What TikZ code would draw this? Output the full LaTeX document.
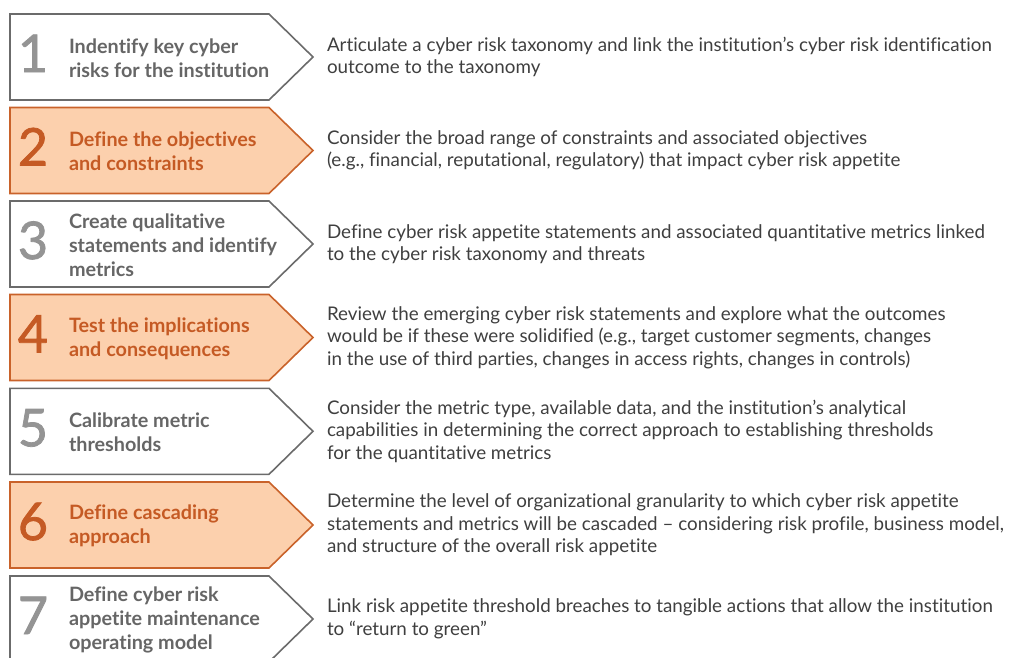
\documentclass[tikz,border=0pt]{standalone}
\usepackage{fontspec}
\setmainfont{Lato}[Ligatures={NoCommon,TeX}]
\newfontfamily\numfont[FakeBold=1.5]{Lato}
\definecolor{grayline}{HTML}{6B6B6B}
\definecolor{graynum}{HTML}{949494}
\definecolor{graylabel}{HTML}{666666}
\definecolor{desctext}{HTML}{3F3F3F}
\definecolor{orline}{HTML}{C9622A}
\definecolor{orfill}{HTML}{FCD0AD}
\definecolor{ortext}{HTML}{C55A24}
\tikzset{
  every node/.style={inner sep=0pt, outer sep=0pt},
  graybox/.style={draw=grayline, fill=white, line width=1.6pt},
  orbox/.style={draw=orline, fill=orfill, line width=1.6pt},
  numtext/.style={anchor=base, font=\numfont\fontsize{52}{52}\selectfont},
  labeltext/.style={anchor=west, align=left, font=\fontsize{19.8}{24}\selectfont\bfseries},
  desctext/.style={anchor=west, align=left, text=desctext, font=\fontsize{18.8}{22.5}\selectfont},
}
\newcommand{\stepitem}[7]{%
  % #1 index, #2 top edge, #3 box style, #4 label colour, #5 number colour, #6 label, #7 description
  \draw[#3] (10,#2) -- (269,#2) -- (313,#2+43) -- (269,#2+86) -- (10,#2+86) -- cycle;
  \node[numtext, text=#5] (num#1) at (33,#2+58) {#1};
  \node[labeltext, text=#4] (lab#1) at (69,#2+44) {#6};
  \node[desctext] (desc#1) at (327,#2+43) {#7};
}
\begin{document}
\begin{tikzpicture}[x=1pt, y=-1pt]
\useasboundingbox (0,0) rectangle (1013,657);
\stepitem{1}{14}{graybox}{graylabel}{graynum}
  {Indentify key cyber\\risks for the institution}
  {Articulate a cyber risk taxonomy and link the institution’s cyber risk identification\\outcome to the taxonomy}
\stepitem{2}{107.5}{orbox}{ortext}{ortext}
  {Define the objectives\\and constraints}
  {Consider the broad range of constraints and associated objectives\\(e.g., financial, reputational, regulatory) that impact cyber risk appetite}
\stepitem{3}{201}{graybox}{graylabel}{graynum}
  {Create qualitative\\statements and identify\\metrics}
  {Define cyber risk appetite statements and associated quantitative metrics linked\\to the cyber risk taxonomy and threats}
\stepitem{4}{294.5}{orbox}{ortext}{ortext}
  {Test the implications\\and consequences}
  {Review the emerging cyber risk statements and explore what the outcomes\\would be if these were solidified (e.g., target customer segments, changes\\in the use of third parties, changes in access rights, changes in controls)}
\stepitem{5}{388.3}{graybox}{graylabel}{graynum}
  {Calibrate metric\\thresholds}
  {Consider the metric type, available data, and the institution’s analytical\\capabilities in determining the correct approach to establishing thresholds\\for the quantitative metrics}
\stepitem{6}{482}{orbox}{ortext}{ortext}
  {Define cascading\\approach}
  {Determine the level of organizational granularity to which cyber risk appetite\\statements and metrics will be cascaded – considering risk profile, business model,\\and structure of the overall risk appetite}
\stepitem{7}{576}{graybox}{graylabel}{graynum}
  {Define cyber risk\\appetite maintenance\\operating model}
  {Link risk appetite threshold breaches to tangible actions that allow the institution\\to “return to green”}
\end{tikzpicture}
\end{document}
